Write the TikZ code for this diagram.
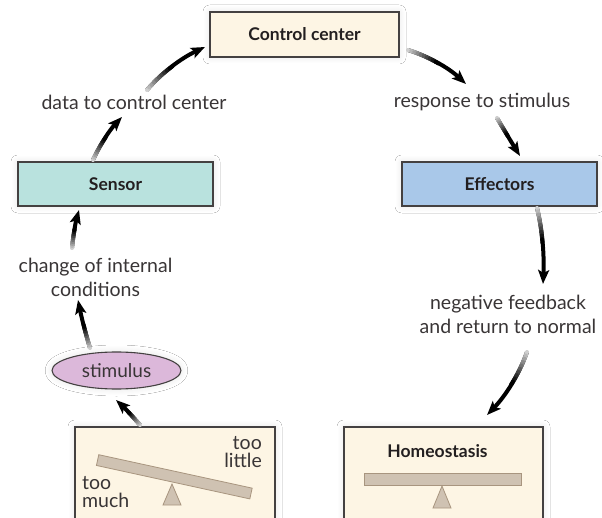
\documentclass[tikz,border=0pt]{standalone}
\usepackage{fontspec}
\setmainfont{Lato}
\usetikzlibrary{arrows.meta,calc,shapes.geometric,shadows.blur}

\definecolor{ink}{HTML}{231F20}
\definecolor{cream}{HTML}{FDF5E4}
\definecolor{sensorfill}{HTML}{B9E2DE}
\definecolor{effectfill}{HTML}{A9C8E9}
\definecolor{stimfill}{HTML}{DCB8DA}
\definecolor{barfill}{HTML}{CFC2B2}
\definecolor{baredge}{HTML}{A8957F}

\tikzset{
  soft/.style={blur shadow={shadow xshift=0pt, shadow yshift=0pt,
      shadow blur radius=7pt, shadow blur steps=14, shadow opacity=10}},
  box/.style={draw=ink!85, line width=1.1pt, rectangle, inner sep=0pt, soft,
      font=\bfseries\fontsize{17.5}{20}\selectfont, text=ink},
  lbl/.style={font=\fontsize{19.5}{24}\selectfont, text=ink!90, align=center, inner sep=1pt},
  small/.style={font=\fontsize{19.5}{18}\selectfont, text=ink!90, inner sep=0pt},
  bar/.style={draw=baredge, fill=barfill, line width=0.8pt, inner sep=0pt},
  conn/.style={line width=4pt, draw=black,
      -{Stealth[length=14pt,width=11pt,inset=3pt]}},
}

% thick curved arrow (quadratic path through control #2) whose tail fades to grey
\newcommand\fadearrow[3]{%
  \draw[conn] (#1) .. controls ($(#1)!2/3!(#2)$) and ($(#3)!2/3!(#2)$) .. (#3);
  \foreach \k in {1,...,10}{%
    \pgfmathsetmacro\ta{(\k-1)*0.05}%
    \pgfmathsetmacro\tb{\k*0.05}%
    \pgfmathtruncatemacro\pc{10+9*\k}%
    \coordinate (fa1) at ($(#1)!\ta!(#2)$);
    \coordinate (fa2) at ($(#2)!\ta!(#3)$);
    \coordinate (fa) at ($(fa1)!\ta!(fa2)$);
    \coordinate (fb1) at ($(#1)!\tb!(#2)$);
    \coordinate (fb2) at ($(#2)!\tb!(#3)$);
    \coordinate (fb) at ($(fb1)!\tb!(fb2)$);
    \draw[line width=4pt, draw=black!\pc, line cap=round] (fa) -- (fb);
  }%
}

\begin{document}
\begin{tikzpicture}[x=1pt,y=-1pt]
  \useasboundingbox (0,0) rectangle (602,518);
  \clip (0,0) rectangle (602,518);
  \fill[white] (0,0) rectangle (602,518);

  % boxes of the loop
  \node[box, fill=cream, minimum width=189pt, minimum height=45pt] (cc) at (304.5,34.5) {Control center};
  \node[box, fill=sensorfill, minimum width=195pt, minimum height=44pt] (sensor) at (115.5,184) {Sensor};
  \node[box, fill=effectfill, minimum width=195pt, minimum height=44pt] (effect) at (499.5,184) {Effectors};
  \node[ellipse, draw=ink!85, line width=1.1pt, fill=stimfill, soft, inner sep=0pt,
        minimum width=129pt, minimum height=37pt, font=\fontsize{19}{20}\selectfont, text=ink!90]
        (stim) at (116.5,370.5) {stimulus};

  % lower panels (cut off at the bottom edge)
  \node[box, fill=cream, minimum width=200pt, minimum height=103pt] (imbal) at (175,478.5) {};
  \node[box, fill=cream, minimum width=199pt, minimum height=103pt] (homeo) at (443.5,478.5) {};

  % tilted balance
  \node[bar, rotate=-12.3, minimum width=157pt, minimum height=11pt] (tilt) at (174.3,476.8) {};
  \filldraw[draw=baredge, fill=barfill, line width=0.8pt] (172,484) -- (181,505) -- (163,505) -- cycle;
  \node[small, align=right, anchor=north east] (little) at (262,436) {too\\little};
  \node[small, align=left, anchor=north west] (much) at (82,476) {too\\much};

  % level balance
  \node[font=\bfseries\fontsize{17.5}{20}\selectfont, text=ink] (htitle) at (437.5,451) {Homeostasis};
  \node[bar, minimum width=157pt, minimum height=12pt] (level) at (442.5,479) {};
  \filldraw[draw=baredge, fill=barfill, line width=0.8pt] (442,486) -- (451,508) -- (433,508) -- cycle;

  % text labels on the loop
  \node[lbl] (data) at (134,102) {data to control center};
  \node[lbl] (resp) at (482,102) {response to stimulus};
  \node[lbl] (change) at (95.5,277) {change of internal\\conditions};
  \node[lbl] (negfb) at (508,314) {negative feedback\\and return to normal};

  % arrow end points
  \coordinate (s1) at (93,160);   \coordinate (c1) at (104,136); \coordinate (e1) at (122,117);
  \coordinate (s2) at (147,90);   \coordinate (c2) at (169,64);  \coordinate (e2) at (205,47);
  \coordinate (s3) at (408,50);   \coordinate (c3) at (440,60);  \coordinate (e3) at (466,84);
  \coordinate (s4) at (497,118);  \coordinate (c4) at (507,135); \coordinate (e4) at (520,156);
  \coordinate (s5) at (537,208);  \coordinate (c5) at (545,240); \coordinate (e5) at (543,284);
  \coordinate (s6) at (527,352);  \coordinate (c6) at (515,386); \coordinate (e6) at (487,415);
  \coordinate (s7) at (90,348);   \coordinate (c7) at (83,325);  \coordinate (e7) at (78,300);
  \coordinate (s8) at (72,248);   \coordinate (c8) at (74,228);  \coordinate (e8) at (79,210);
  \coordinate (s9) at (140,425);  \coordinate (c9) at (128,411); \coordinate (e9) at (116,400);

  \fadearrow{s1}{c1}{e1}
  \fadearrow{s2}{c2}{e2}
  \fadearrow{s3}{c3}{e3}
  \fadearrow{s4}{c4}{e4}
  \fadearrow{s5}{c5}{e5}
  \fadearrow{s6}{c6}{e6}
  \fadearrow{s7}{c7}{e7}
  \fadearrow{s8}{c8}{e8}
  \fadearrow{s9}{c9}{e9}
\end{tikzpicture}
\end{document}
